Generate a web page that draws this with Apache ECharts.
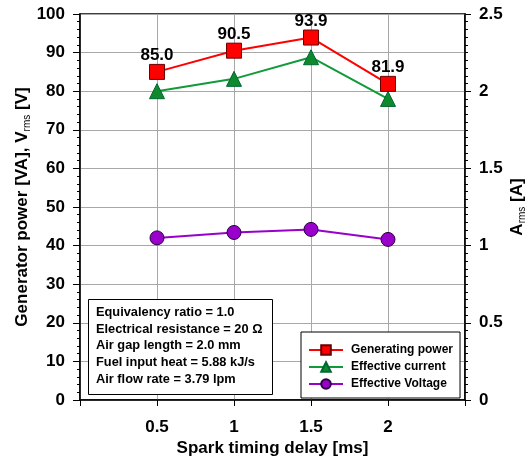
<!DOCTYPE html>
<html>
<head>
<meta charset="utf-8">
<script src="https://cdn.jsdelivr.net/npm/echarts@6/dist/echarts.min.js"></script>
<style>html,body{margin:0;padding:0;background:#fff}#c{width:530px;height:461px}</style>
</head>
<body>
<div id="c"></div>
<script>
var delays = [0.5, 1, 1.5, 2];
var generatingPower = [85.0, 90.5, 93.9, 81.9];
var effectiveCurrent = [2.0, 2.08, 2.22, 1.95];
var effectiveVoltage = [42.0, 43.4, 44.2, 41.6];
var xTickLabels = ['0.5', '1', '1.5', '2'];
var infoLines = [
  'Equivalency ratio = 1.0',
  'Electrical resistance = 20 \u03A9',
  'Air gap length = 2.0 mm',
  'Fuel input heat = 5.88 kJ/s',
  'Air flow rate = 3.79 lpm'
];

function pairs(xs, ys) { return xs.map(function (x, i) { return [x, ys[i]]; }); }

var FONT = 'Liberation Sans';
var chart = echarts.init(document.getElementById('c'), null, { renderer: 'canvas' });
var axisLbl = { color: '#000', fontFamily: FONT, fontWeight: 'bold', fontSize: 17 };
var richName = {
  m: { color: '#000', fontFamily: FONT, fontWeight: 'bold', fontSize: 17, lineHeight: 20 },
  s: { color: '#000', fontFamily: FONT, fontSize: 10, verticalAlign: 'bottom', lineHeight: 14 }
};

chart.setOption({
  animation: false,
  backgroundColor: '#fff',
  grid: { left: 80, right: 65, top: 14, bottom: 61, outerBoundsMode: 'none', containLabel: false,
    show: true, borderColor: '#000', borderWidth: 1.5, backgroundColor: 'transparent' },
  xAxis: {
    type: 'value', min: 0, max: 2.5, interval: 0.5,
    name: 'Spark timing delay [ms]', nameLocation: 'middle', nameGap: 40, nameMoveOverlap: false,
    nameTextStyle: { color: '#000', fontFamily: FONT, fontWeight: 'bold', fontSize: 17 },
    axisLine: { show: true, lineStyle: { color: '#000', width: 1.5 } },
    axisTick: { show: true, length: 6, lineStyle: { color: '#000', width: 1 } },
    axisLabel: Object.assign({ margin: 19, formatter: function (v) { var s = String(v); return xTickLabels.indexOf(s) >= 0 ? s : ''; } }, axisLbl),
    splitLine: { show: true, lineStyle: { color: '#a8a8a8', width: 1 } }
  },
  yAxis: [{
    type: 'value', min: 0, max: 100, interval: 10,
    name: '{m|Generator power [VA], V}{s|rms}{m| [V]}', nameLocation: 'middle', nameGap: 48, nameRotate: 90, nameMoveOverlap: false,
    nameTextStyle: { rich: richName },
    axisLine: { show: true, lineStyle: { color: '#000', width: 1.5 } },
    axisTick: { show: true, length: 7, lineStyle: { color: '#000', width: 1 } },
    minorTick: { show: true, splitNumber: 5, length: 3, lineStyle: { color: '#000', width: 1 } },
    axisLabel: Object.assign({ margin: 15 }, axisLbl),
    splitLine: { show: true, lineStyle: { color: '#a8a8a8', width: 1 } }
  }, {
    type: 'value', min: 0, max: 2.5, interval: 0.5, position: 'right',
    name: '{m|A}{s|rms}{m| [A]}', nameLocation: 'middle', nameGap: 42, nameRotate: 90, nameMoveOverlap: false,
    nameTextStyle: { rich: richName },
    axisLine: { show: true, lineStyle: { color: '#000', width: 1.5 } },
    axisTick: { show: true, length: 6, lineStyle: { color: '#000', width: 1 } },
    minorTick: { show: true, splitNumber: 10, length: 3, lineStyle: { color: '#000', width: 1 } },
    axisLabel: Object.assign({ margin: 14, formatter: function (v) { return String(v); } }, axisLbl),
    splitLine: { show: false }
  }],
  legend: {
    orient: 'vertical', left: 301, top: 332,
    backgroundColor: '#fff', borderColor: '#000', borderWidth: 1,
    padding: [12, 7, 8, 7], itemGap: 5, itemWidth: 34, itemHeight: 12,
    textStyle: { color: '#000', fontFamily: FONT, fontWeight: 'bold', fontSize: 12, padding: [0, 0, 0, 3] },
    data: ['Generating power', 'Effective current', 'Effective Voltage']
  },
  series: [{
    name: 'Generating power', type: 'line', yAxisIndex: 0, z: 5,
    data: pairs(delays, generatingPower),
    symbol: 'rect', symbolSize: 15,
    lineStyle: { color: '#ff0000', width: 2 },
    itemStyle: { color: '#ff0000', borderColor: '#6a0000', borderWidth: 1 },
    label: { show: true, position: 'top', distance: 0, formatter: function (p) { return p.value[1].toFixed(1); },
      color: '#000', fontFamily: FONT, fontWeight: 'bold', fontSize: 17 }
  }, {
    name: 'Effective current', type: 'line', yAxisIndex: 1, z: 4,
    data: pairs(delays, effectiveCurrent),
    symbol: 'triangle', symbolSize: 15,
    lineStyle: { color: '#119a3a', width: 2 },
    itemStyle: { color: '#0e8a2c', borderColor: '#063', borderWidth: 1 }
  }, {
    name: 'Effective Voltage', type: 'line', yAxisIndex: 0, z: 3,
    data: pairs(delays, effectiveVoltage),
    symbol: 'circle', symbolSize: 14,
    lineStyle: { color: '#9900cc', width: 2 },
    itemStyle: { color: '#9900cc', borderColor: '#2a0040', borderWidth: 1 }
  }],
  graphic: [{
    type: 'rect', left: 88, top: 299, z: 100,
    shape: { x: 0, y: 0, width: 184, height: 95 },
    style: { fill: '#fff', stroke: '#000', lineWidth: 1 }
  }].concat(infoLines.map(function (t, i) {
    return { type: 'text', left: 96, top: 306 + i * 16.7, z: 101,
      style: { text: t, fill: '#000', font: 'bold 12.8px "Liberation Sans"' } };
  }))
});
</script>
</body>
</html>
